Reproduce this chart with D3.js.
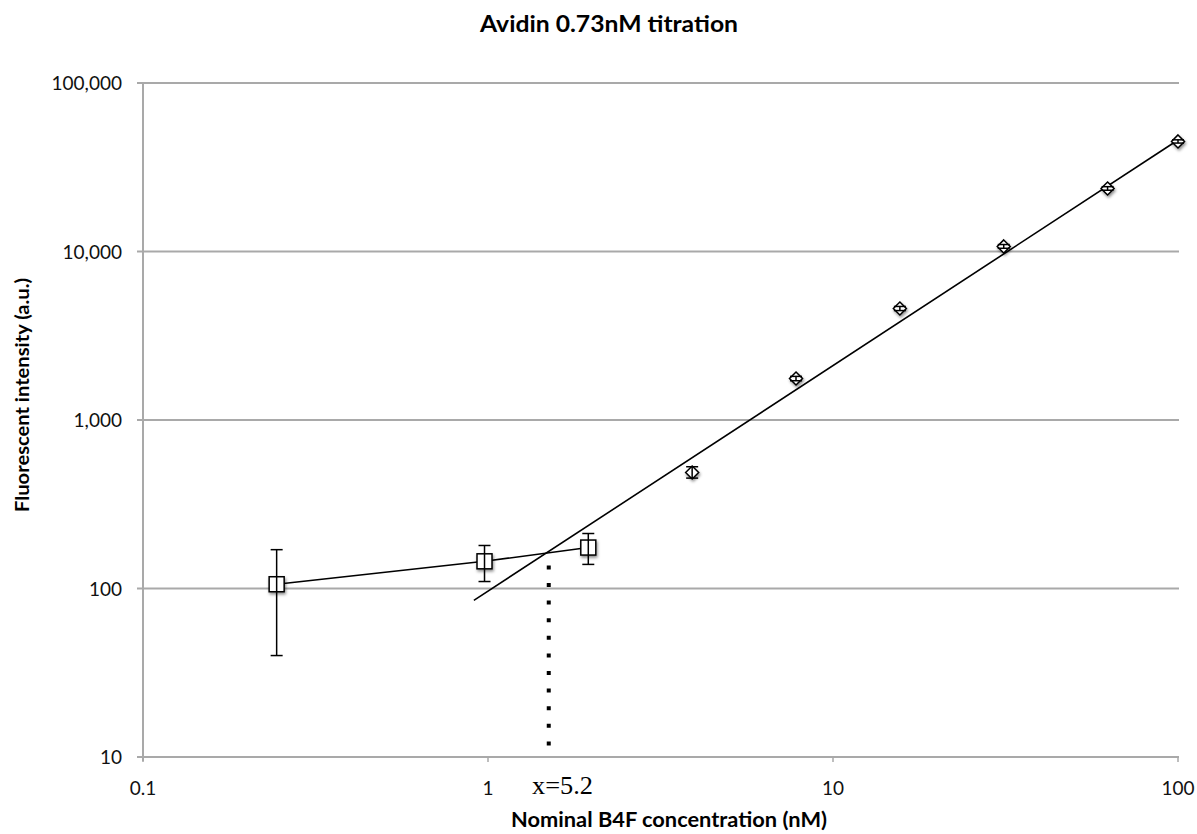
<html>
<head>
<script src="https://cdnjs.cloudflare.com/ajax/libs/d3/7.8.5/d3.min.js"></script>
<style>
body { margin: 0; background: #fff; }
svg { display: block; font-family: Lato, "Open Sans", sans-serif; }
</style>
</head>
<body>
<svg id="canvas" width="1197" height="834"></svg>
<script>
// low range points (squares), connected
var lowX = [0.244, 0.977, 1.953];
var lowY = [106, 145, 175];
var lowErrLo = [40, 110, 139];
var lowErrHi = [170, 180, 212];

// high range points (diamonds)
var highX = [3.906, 7.8125, 15.625, 31.25, 62.5, 100];
var highY = [488, 1762, 4590, 10720, 23670, 45000];
var highErrLo = [452, 1710, 4460, 10450, 23100, 44000];
var highErrHi = [528, 1815, 4720, 11000, 24250, 46000];

// linear fit of the high range, drawn as a segment
var fitX = [0.91, 100];
var fitY = [85, 45900];

// intersection marker
var crossX = 1.5;
var crossY = 166;
var crossLabel = 'x=5.2';

var xTicks = [0.1, 1, 10, 100];
var yTicks = [10, 100, 1000, 10000, 100000];

var svg = d3.select('#canvas');
var x = d3.scaleLog().domain([0.1, 100]).range([143, 1178]);
var y = d3.scaleLog().domain([10, 100000]).range([757, 83]);
var grey = '#a9a9a9';

var defs = svg.append('defs');
var f = defs.append('filter').attr('id', 'shadow').attr('x', '-50%').attr('y', '-50%').attr('width', '200%').attr('height', '200%');
f.append('feDropShadow').attr('dx', 1).attr('dy', 2).attr('stdDeviation', 1.5).attr('flood-color', '#000').attr('flood-opacity', 0.45);

// title
svg.append('text')
  .attr('x', 609).attr('y', 32)
  .attr('text-anchor', 'middle')
  .attr('textLength', 258).attr('lengthAdjust', 'spacingAndGlyphs')
  .style('font-weight', 'bold').style('font-size', '22px')
  .text('Avidin 0.73nM titration');

// gridlines
svg.selectAll('.grid')
  .data(yTicks)
  .enter()
  .append('line')
  .attr('x1', 137).attr('x2', 1179)
  .attr('y1', function(d) { return y(d); })
  .attr('y2', function(d) { return y(d); })
  .style('stroke', grey).style('stroke-width', 2);

// y axis line
svg.append('line')
  .attr('x1', 143).attr('x2', 143).attr('y1', 83).attr('y2', 761)
  .style('stroke', grey).style('stroke-width', 2);

// x ticks
svg.selectAll('.xtick')
  .data(xTicks)
  .enter()
  .append('line')
  .attr('x1', function(d) { return x(d); })
  .attr('x2', function(d) { return x(d); })
  .attr('y1', 757).attr('y2', 762)
  .style('stroke', grey).style('stroke-width', 1.5);

svg.selectAll('.ylab')
  .data(yTicks)
  .enter()
  .append('text')
  .attr('x', 122)
  .attr('y', function(d) { return y(d) + 7; })
  .attr('text-anchor', 'end')
  .style('font-size', '19px')
  .style('fill', '#111')
  .text(function(d) { return d3.format(',')(d); });

svg.selectAll('.xlab')
  .data(xTicks)
  .enter()
  .append('text')
  .attr('x', function(d) { return x(d); })
  .attr('y', 795)
  .attr('text-anchor', 'middle')
  .style('font-size', '19px')
  .style('fill', '#111')
  .text(function(d) { return d; });

// axis titles
svg.append('text')
  .attr('x', 669).attr('y', 827)
  .attr('text-anchor', 'middle')
  .attr('textLength', 316).attr('lengthAdjust', 'spacingAndGlyphs')
  .style('font-weight', 'bold').style('font-size', '21px')
  .text('Nominal B4F concentration (nM)');

svg.append('text')
  .attr('transform', 'translate(29, 395) rotate(-90)')
  .attr('text-anchor', 'middle')
  .attr('textLength', 234).attr('lengthAdjust', 'spacingAndGlyphs')
  .style('font-weight', 'bold').style('font-size', '19px')
  .text('Fluorescent intensity (a.u.)');

// dotted drop line
svg.append('line')
  .attr('x1', x(crossX)).attr('x2', x(crossX))
  .attr('y1', y(crossY) + 14).attr('y2', y(10))
  .style('stroke', '#000').style('stroke-width', 4)
  .style('stroke-dasharray', '4,13.6');

svg.append('text')
  .attr('x', 532).attr('y', 794)
  .attr('textLength', 61).attr('lengthAdjust', 'spacingAndGlyphs')
  .style('font-family', '"Liberation Serif", "DejaVu Serif", serif')
  .style('font-size', '26px')
  .text(crossLabel);

// fit line
var line = d3.line().x(function(d) { return x(d[0]); }).y(function(d) { return y(d[1]); });
svg.append('path')
  .datum(d3.zip(fitX, fitY))
  .attr('d', line)
  .style('fill', 'none').style('stroke', '#000').style('stroke-width', 1.6);

// connecting line for low points
svg.append('path')
  .datum(d3.zip(lowX, lowY))
  .attr('d', line)
  .style('fill', 'none').style('stroke', '#000').style('stroke-width', 1.6);

// square markers
var low = d3.range(lowX.length);
svg.append('g').attr('filter', 'url(#shadow)')
  .selectAll('rect')
  .data(low)
  .enter()
  .append('rect')
  .attr('x', function(i) { return x(lowX[i]) - 7.5; })
  .attr('y', function(i) { return y(lowY[i]) - 7.5; })
  .attr('width', 15).attr('height', 15)
  .style('fill', '#fff').style('stroke', '#000').style('stroke-width', 1.5);

// diamond markers
var high = d3.range(highX.length);
svg.append('g').attr('filter', 'url(#shadow)')
  .selectAll('path')
  .data(high)
  .enter()
  .append('path')
  .attr('transform', function(i) { return 'translate(' + x(highX[i]) + ',' + y(highY[i]) + ')'; })
  .attr('d', 'M0,-6.5L6.5,0L0,6.5L-6.5,0Z')
  .style('fill', '#fff').style('stroke', '#000').style('stroke-width', 1.5);

// error bars
function errorBars(xs, lo, hi, cap) {
  var g = svg.append('g').style('stroke', '#000').style('stroke-width', 1.5);
  xs.forEach(function(v, i) {
    var cx = x(v);
    g.append('line').attr('x1', cx).attr('x2', cx).attr('y1', y(lo[i])).attr('y2', y(hi[i]));
    g.append('line').attr('x1', cx - cap).attr('x2', cx + cap).attr('y1', y(lo[i])).attr('y2', y(lo[i]));
    g.append('line').attr('x1', cx - cap).attr('x2', cx + cap).attr('y1', y(hi[i])).attr('y2', y(hi[i]));
  });
}
errorBars(lowX, lowErrLo, lowErrHi, 6);
errorBars(highX, highErrLo, highErrHi, 6);
</script>
</body>
</html>
